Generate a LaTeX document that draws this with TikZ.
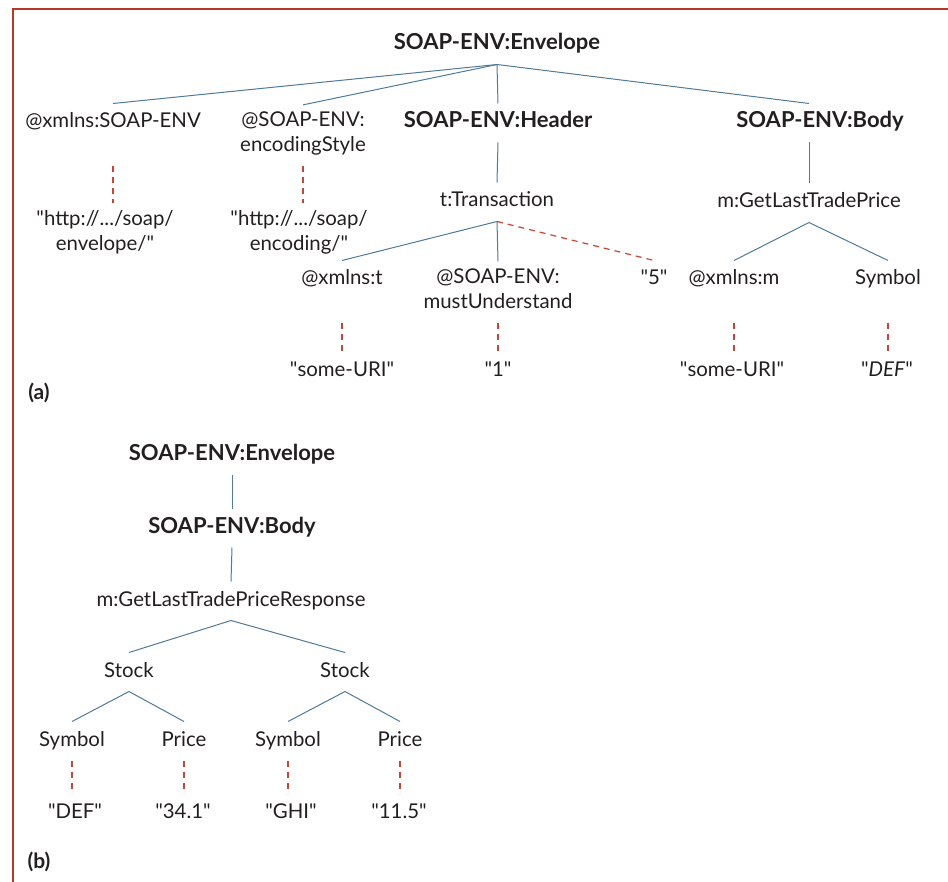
\documentclass[tikz,border=0pt]{standalone}
\usepackage{fontspec}
\setmainfont{Lato}
\usepackage{tikz}
\definecolor{astblau}{HTML}{4F7A9A}
\definecolor{wertrot}{HTML}{C8433A}
\definecolor{rahmenrot}{HTML}{B8352A}
\definecolor{schrift}{HTML}{231F20}
\newcommand{\wert}[1]{\textquotedbl#1\textquotedbl}
\tikzset{
    elem/.style      = {inner sep=0pt, outer ysep=3.5pt, text=schrift, align=center,
                        font=\fontsize{10.2}{12.5}\selectfont, execute at begin node=\strut},
    tagname/.style   = {elem, font=\fontsize{11}{12.5}\selectfont\bfseries},
    branch/.style    = {draw=astblau, line width=0.5pt},
    valuelink/.style = {draw=wertrot, line width=0.6pt, dash pattern=on 3pt off 2.5pt},
    frame/.style     = {draw=rahmenrot, line width=1.3pt},
    part/.style      = {inner sep=0pt, text=schrift, font=\fontsize{10.5}{12}\selectfont\bfseries}
}

\begin{document}
\begin{tikzpicture}[x=0.5pt, y=-0.5pt]
        \useasboundingbox (0,0) rectangle (948,882);
        \draw[frame] (13,882) -- (13,9) -- (948,9);

        % (a)
        \node[tagname] (env) at (497,45) {SOAP-ENV:Envelope};
        \node[elem] (xmlnsenv) at (113,123) {@xmlns:SOAP-ENV};
        \node[elem] (encstyle) at (303,135.5) {@SOAP-ENV:\\\strut encodingStyle};
        \node[tagname] (header) at (498,123) {SOAP-ENV:Header};
        \node[tagname] (body) at (820,123) {SOAP-ENV:Body};

        \node[elem] (encenv) at (105,234) {\textquotedbl http://.../soap/\\\strut envelope/\textquotedbl};
        \node[elem] (encenc) at (299,234) {\textquotedbl http://.../soap/\\\strut encoding/\textquotedbl};

        \node[elem] (trans) at (497,202) {t:Transaction};
        \node[elem] (xmlnst) at (342,280) {@xmlns:t};
        \node[elem] (must) at (498,292) {@SOAP-ENV:\\\strut mustUnderstand};
        \node[elem] (five) at (654,280) {\wert{5}};
        \node[elem] (uri1) at (342,372) {\wert{some-URI}};
        \node[elem] (one) at (498,372) {\wert{1}};

        \node[elem] (gltp) at (809,203) {m:GetLastTradePrice};
        \node[elem] (xmlnsm) at (734,280) {@xmlns:m};
        \node[elem] (symbol) at (888,280) {Symbol};
        \node[elem] (uri2) at (732,372) {\wert{some-URI}};
        \node[elem] (def) at (887,372) {\wert{\textit{DEF}}};

        \node[part] (laba) at (39,393) {(a)};

        \draw[branch] (env.south) -- (xmlnsenv.north);
        \draw[branch] (env.south) -- (encstyle.north);
        \draw[branch] (env.south) -- (header.north);
        \draw[branch] (env.south) -- (body.north -| gltp.north);
        \draw[branch] (header.south) -- (trans.north);
        \draw[branch] (gltp.north |- body.south) -- (gltp.north);
        \draw[branch] (trans.south) -- (xmlnst.north);
        \draw[branch] (trans.south) -- (must.north);
        \draw[valuelink] (trans.south) -- (five.north);
        \draw[branch] (gltp.south) -- (xmlnsm.north);
        \draw[branch] (gltp.south) -- (symbol.north);

        \draw[valuelink] (xmlnsenv.south |- encstyle.south) -- (xmlnsenv.south |- encenv.north);
        \draw[valuelink] (encstyle.south) -- (encstyle.south |- encenc.north);
        \draw[valuelink] (xmlnst.south |- must.south) -- (xmlnst.south |- uri1.north);
        \draw[valuelink] (must.south) -- (must.south |- one.north);
        \draw[valuelink] (xmlnsm.south |- must.south) -- (xmlnsm.south |- uri2.north);
        \draw[valuelink] (symbol.south |- must.south) -- (symbol.south |- def.north);

        % (b)
        \node[tagname] (env2) at (232,455) {SOAP-ENV:Envelope};
        \node[tagname] (body2) at (232,528) {SOAP-ENV:Body};
        \node[elem] (resp) at (231,601) {m:GetLastTradePriceResponse};
        \node[elem] (stock1) at (129,672) {Stock};
        \node[elem] (stock2) at (345,672) {Stock};
        \node[elem] (sym1) at (72,741) {Symbol};
        \node[elem] (price1) at (184,741) {Price};
        \node[elem] (sym2) at (288,741) {Symbol};
        \node[elem] (price2) at (400,741) {Price};
        \node[elem] (val1) at (75,813) {\wert{DEF}};
        \node[elem] (val2) at (183,813) {\wert{34.1}};
        \node[elem] (val3) at (291,813) {\wert{GHI}};
        \node[elem] (val4) at (399,813) {\wert{11.5}};

        \node[part] (labb) at (39,862) {(b)};

        \draw[branch] (env2.south) -- (body2.north);
        \draw[branch] (body2.south) -- (resp.north);
        \draw[branch] (resp.south) -- (stock1.north);
        \draw[branch] (resp.south) -- (stock2.north);
        \draw[branch] (stock1.south) -- (sym1.north);
        \draw[branch] (stock1.south) -- (price1.north);
        \draw[branch] (stock2.south) -- (sym2.north);
        \draw[branch] (stock2.south) -- (price2.north);
        \draw[valuelink] (sym1.south) -- (sym1.south |- val1.north);
        \draw[valuelink] (price1.south) -- (price1.south |- val2.north);
        \draw[valuelink] (sym2.south) -- (sym2.south |- val3.north);
        \draw[valuelink] (price2.south) -- (price2.south |- val4.north);
    \end{tikzpicture}
\end{document}
